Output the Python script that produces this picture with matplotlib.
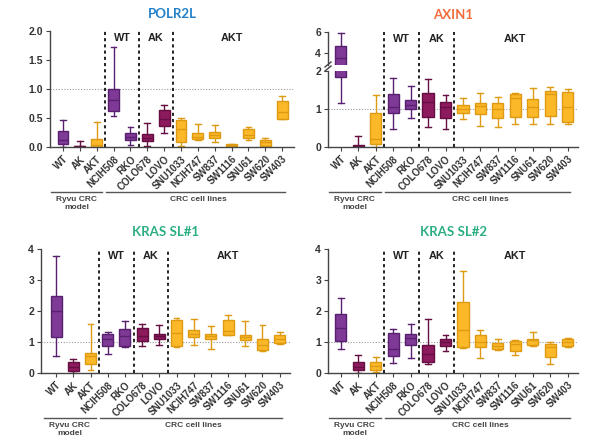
import matplotlib
matplotlib.use('Agg')
import matplotlib.pyplot as plt
from matplotlib.lines import Line2D
from matplotlib.transforms import blended_transform_factory

categories = ['WT', 'AK', 'AKT', 'NCIH508', 'RKO', 'COLO678', 'LOVO', 'SNU1033',
              'NCIH747', 'SW837', 'SW1116', 'SNU61', 'SW620', 'SW403']
groups = ['WT', 'AK', 'AKT', 'WT', 'WT', 'AK', 'AK', 'AKT', 'AKT', 'AKT', 'AKT', 'AKT', 'AKT', 'AKT']
group_labels = ['WT', 'AK', 'AKT']
separators = [2.5, 4.5, 6.5]

# POLR2L
polr2l_min = [0.00, 0.00, 0.00, 0.54, 0.03, 0.01, 0.25, 0.01, 0.12, 0.08, 0.01, 0.12, 0.01, 0.48]
polr2l_q1  = [0.06, 0.00, 0.00, 0.62, 0.12, 0.10, 0.37, 0.08, 0.13, 0.15, 0.02, 0.15, 0.02, 0.49]
polr2l_med = [0.12, 0.01, 0.04, 0.81, 0.18, 0.16, 0.49, 0.31, 0.18, 0.21, 0.03, 0.21, 0.09, 0.60]
polr2l_q3  = [0.27, 0.02, 0.13, 1.00, 0.24, 0.23, 0.64, 0.47, 0.25, 0.26, 0.05, 0.31, 0.12, 0.80]
polr2l_max = [0.46, 0.10, 0.43, 1.72, 0.35, 0.42, 0.72, 0.50, 0.40, 0.38, 0.06, 0.34, 0.16, 0.88]

# AXIN1
axin1_min = [1.17, 0.00, 0.00, 0.48, 0.76, 0.53, 0.48, 0.73, 0.55, 0.53, 0.60, 0.60, 0.60, 0.60]
axin1_q1  = [1.84, 0.00, 0.09, 0.90, 0.99, 0.79, 0.77, 0.90, 0.86, 0.76, 0.80, 0.80, 0.82, 0.66]
axin1_med = [3.52, 0.03, 0.22, 1.05, 1.10, 1.18, 1.05, 1.01, 1.07, 1.01, 1.30, 1.04, 1.39, 1.06]
axin1_q3  = [4.73, 0.06, 0.90, 1.40, 1.23, 1.43, 1.18, 1.10, 1.16, 1.16, 1.40, 1.27, 1.47, 1.45]
axin1_max = [5.90, 0.28, 1.36, 1.82, 1.60, 1.80, 1.38, 1.30, 1.42, 1.32, 1.42, 1.54, 1.58, 1.52]

# KRAS SL#1
sl1_min = [0.54, 0.00, 0.11, 0.62, 0.84, 0.88, 0.90, 0.84, 0.89, 0.78, 1.22, 0.88, 0.70, 0.95]
sl1_q1  = [1.15, 0.05, 0.30, 0.88, 0.88, 1.02, 1.11, 0.88, 1.15, 1.11, 1.24, 1.08, 0.75, 0.97]
sl1_med = [2.00, 0.18, 0.54, 1.10, 1.20, 1.20, 1.18, 1.29, 1.26, 1.18, 1.34, 1.16, 0.91, 1.10]
sl1_q3  = [2.49, 0.34, 0.65, 1.26, 1.43, 1.45, 1.26, 1.70, 1.40, 1.26, 1.72, 1.22, 1.10, 1.24]
sl1_max = [3.76, 0.45, 1.59, 1.31, 1.67, 1.57, 1.54, 1.77, 1.75, 1.51, 1.88, 1.67, 1.56, 1.32]

# KRAS SL#2
sl2_min = [0.77, 0.00, 0.03, 0.32, 0.48, 0.29, 0.71, 0.81, 0.48, 0.75, 0.59, 0.88, 0.30, 0.83]
sl2_q1  = [1.04, 0.09, 0.11, 0.54, 0.91, 0.35, 0.88, 0.84, 0.84, 0.78, 0.70, 0.91, 0.52, 0.86]
sl2_med = [1.45, 0.19, 0.22, 0.77, 1.13, 0.62, 1.00, 1.40, 0.99, 0.88, 0.94, 1.05, 0.84, 0.99]
sl2_q3  = [1.91, 0.35, 0.35, 1.29, 1.26, 0.91, 1.10, 2.29, 1.24, 0.97, 1.02, 1.11, 0.94, 1.10]
sl2_max = [2.42, 0.57, 0.51, 1.42, 1.59, 1.74, 1.24, 3.30, 1.40, 1.11, 1.05, 1.32, 0.99, 1.13]

fill = {'WT': '#7E3A96', 'AK': '#8E1A5E', 'AKT': '#FBB829'}
edge = {'WT': '#5A2070', 'AK': '#650E42', 'AKT': '#DE9A12'}

W, H = 590, 447
fig = plt.figure(figsize=(W / 100, H / 100), dpi=100)
FONT = 'Liberation Sans'
TCOL = '#333333'


def rect(l, t, r, b):
    return [l / W, 1 - b / H, (r - l) / W, (b - t) / H]


def draw_boxes(ax, lo, q1, med, q3, hi):
    for i in range(len(categories)):
        g = groups[i]
        st = dict(whislo=lo[i], q1=q1[i], med=med[i], q3=q3[i], whishi=hi[i], label=categories[i])
        ax.bxp([st], positions=[i], widths=0.64, capwidths=0.34, showfliers=False,
               patch_artist=True, manage_ticks=False,
               boxprops=dict(facecolor=fill[g], edgecolor=edge[g], linewidth=1.0),
               medianprops=dict(color=edge[g], linewidth=1.0),
               whiskerprops=dict(color=edge[g], linewidth=1.0),
               capprops=dict(color=edge[g], linewidth=1.0))


def style(ax, xlim):
    ax.set_xlim(*xlim)
    for s in ['top', 'right']:
        ax.spines[s].set_visible(False)
    for s in ['left', 'bottom']:
        ax.spines[s].set_color('#444444')
        ax.spines[s].set_linewidth(1.0)
    ax.tick_params(axis='both', length=3, width=0.8, color='#444444', labelcolor=TCOL, pad=2)
    for lab in ax.get_yticklabels():
        lab.set_fontweight('bold'); lab.set_fontsize(7.5); lab.set_family(FONT)


def xlabels(ax):
    ax.set_xticks(range(len(categories)))
    ax.set_xticklabels(categories, rotation=45, ha='right', va='top', rotation_mode='anchor',
                       fontsize=7, fontweight='bold', family=FONT, color=TCOL)


def decorations(ax, bottom_px, top_px, line_px, title, tcolor, xl, xr):
    ax.axhline(1, color='#9a9a9a', ls=(0, (1, 1.5)), lw=0.8, zorder=0)
    hpx = bottom_px - top_px
    bb = ax.get_position()
    ax_h_px = bb.height * H
    for p in separators:
        ax.axvline(p, ymin=0, ymax=hpx / ax_h_px, color='#222222', ls=(0, (1.6, 1.6)), lw=1.4,
                   clip_on=False, zorder=3)
    tr = blended_transform_factory(ax.transData, fig.transFigure)
    ytxt = 1 - (top_px + 7) / H
    for x, t in zip([3.5, 5.5, 10.0], group_labels):
        ax.text(x, ytxt, t, transform=tr, ha='center', va='center', fontsize=7.8,
                fontweight='bold', family=FONT, color='#222222')
    yl = 1 - line_px / H
    ax.add_line(Line2D([-0.7, 2.3], [yl, yl], transform=tr, color='#555555', lw=1.0, clip_on=False))
    ax.add_line(Line2D([2.55, 13.15], [yl, yl], transform=tr, color='#555555', lw=1.0, clip_on=False))
    ax.text(0.8, 1 - (line_px + 4) / H, 'Ryvu CRC\nmodel', transform=tr, ha='center', va='top',
            fontsize=6, fontweight='bold', family=FONT, color='#444444', linespacing=1.25)
    ax.text(8.0, 1 - (line_px + 4) / H, 'CRC cell lines', transform=tr, ha='center', va='top',
            fontsize=6, fontweight='bold', family=FONT, color='#444444')
    fig.text((xl + xr) / 2 / W, 1 - (top_px - 17) / H, title, ha='center', va='center',
             fontsize=9.5, fontweight='bold', family='Lato', color=tcolor)


# Panel 1: POLR2L
ax1 = fig.add_axes(rect(50, 31, 294, 147))
draw_boxes(ax1, polr2l_min, polr2l_q1, polr2l_med, polr2l_q3, polr2l_max)
ax1.set_ylim(0, 2.0)
ax1.set_yticks([0, 0.5, 1.0, 1.5, 2.0])
ax1.set_yticklabels(['0.0', '0.5', '1.0', '1.5', '2.0'])
xlabels(ax1)
style(ax1, (-0.77, 13.7))
decorations(ax1, 147, 31, 192, 'POLR2L', '#2180C8', 50, 294)

# Panel 2: AXIN1 (broken axis)
ax2 = fig.add_axes(rect(328, 71, 578, 147))
ax2u = fig.add_axes(rect(328, 32, 578, 65))
draw_boxes(ax2, axin1_min, axin1_q1, axin1_med, axin1_q3, axin1_max)
draw_boxes(ax2u, axin1_min, axin1_q1, axin1_med, axin1_q3, axin1_max)
ax2.set_ylim(0, 2.0)
ax2.set_yticks([0, 1, 2])
ax2u.set_ylim(2.9, 6.0)
ax2u.set_yticks([4, 6])
xlabels(ax2)
style(ax2, (-0.74, 13.6))
style(ax2u, (-0.74, 13.6))
ax2u.spines['bottom'].set_visible(False)
ax2u.set_xticks([])
ax2u.patch.set_alpha(0)
decorations(ax2, 147, 32, 192, 'AXIN1', '#F26C3C', 328, 578)
for y0 in (64.5, 68.5):
    fig.add_artist(Line2D([325 / W, 331 / W], [1 - (y0 + 2.5) / H, 1 - (y0 - 2.5) / H],
                          transform=fig.transFigure, color='#444444', lw=1.0))

# Panel 3: KRAS SL#1
ax3 = fig.add_axes(rect(41, 249, 290, 373))
draw_boxes(ax3, sl1_min, sl1_q1, sl1_med, sl1_q3, sl1_max)
ax3.set_ylim(0, 4)
ax3.set_yticks([0, 1, 2, 3, 4])
xlabels(ax3)
style(ax3, (-0.88, 13.6))
decorations(ax3, 373, 249, 418, 'KRAS SL#1', '#2CAF80', 41, 290)

# Panel 4: KRAS SL#2
ax4 = fig.add_axes(rect(328, 249, 578, 373))
draw_boxes(ax4, sl2_min, sl2_q1, sl2_med, sl2_q3, sl2_max)
ax4.set_ylim(0, 4)
ax4.set_yticks([0, 1, 2, 3, 4])
xlabels(ax4)
style(ax4, (-0.74, 13.6))
decorations(ax4, 373, 249, 418, 'KRAS SL#2', '#2CAF80', 328, 578)

fig.savefig('out.png', dpi=100, facecolor='white')
